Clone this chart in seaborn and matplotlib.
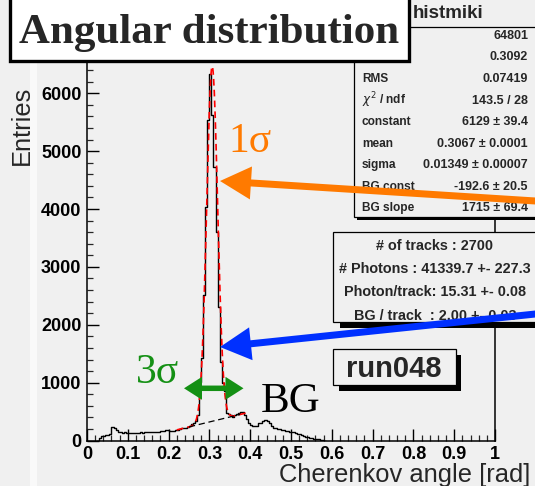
import numpy as np
import pandas as pd
import matplotlib
matplotlib.use("Agg")
import matplotlib.pyplot as plt
from matplotlib.patches import Rectangle, FancyArrow
from matplotlib.ticker import MultipleLocator, FixedLocator
import seaborn as sns

# ---- histogram contents: 0.005 rad bins, first bin starts at 0.025 rad ----
bin_width = 0.005
first_edge = 0.025
counts = [
    0, 37, 78, 80, 95, 100, 107, 233, 220, 176,            # 0.025 - 0.070
    150, 140, 135, 140, 138, 132, 135, 130, 133, 138,      # 0.075 - 0.120
    135, 140, 137, 142, 145, 148, 145, 150, 152, 150,      # 0.125 - 0.170
    155, 160, 158, 181, 176, 165, 170, 164, 175, 190,      # 0.175 - 0.220
    200, 215, 210, 225, 235, 260, 285, 307, 340, 450,      # 0.225 - 0.270
    1010, 1430, 2510, 4030, 5540, 6330, 5620, 4730, 3600, 2310,  # 0.275 - 0.320
    1360, 1000, 850, 470, 455, 440, 415, 450, 465, 480,    # 0.325 - 0.370
    490, 500, 450, 366, 307, 270, 250, 250, 260, 300,      # 0.375 - 0.420
    310, 330, 355, 340, 300, 250, 225, 210, 200, 193,      # 0.425 - 0.470
    185, 175, 165, 160, 155, 150, 140, 135, 120, 107,      # 0.475 - 0.520
    100, 80, 70, 60, 50, 40, 35, 25, 20, 10,               # 0.525 - 0.570
    5, 0,                                                  # 0.575 - 0.580
]

# ---- fit result: gaussian + linear background ----
fit_const = 6129.0
fit_mean = 0.3067
fit_sigma = 0.01349
bg_const = -192.6
bg_slope = 1715.0
fit_range = (0.22, 0.39)
bg_range = (0.25, 0.375)

# ---- text content ----
title_text = "Angular distribution"
hist_name = "histmiki"
# the first two rows sit under the title box, only their values show
stat_labels = ["", "", "RMS", r"$\chi^2$ / ndf", "constant", "mean",
               "sigma", "BG const", "BG slope"]
stat_values = ["64801", "0.3092", "0.07419", "143.5 / 28", "6129 \u00b1 39.4",
               "0.3067 \u00b1 0.0001", "0.01349 \u00b1 0.00007",
               "-192.6 \u00b1 20.5", "1715 \u00b1 69.4"]
track_lines = ["# of tracks : 2700", "# Photons : 41339.7 +- 227.3",
               "Photon/track: 15.31 +- 0.08", "BG / track  : 2.00 +- 0.03"]
run_label = "run048"
x_ticks = [0, 0.1, 0.2, 0.3, 0.4, 0.5, 0.6, 0.7, 0.8, 0.9, 1]
x_tick_labels = ["0", "0.1", "0.2", "0.3", "0.4", "0.5", "0.6", "0.7", "0.8", "0.9", "1"]
y_ticks = [0, 1000, 2000, 3000, 4000, 5000, 6000]
y_tick_labels = ["0", "1000", "2000", "3000", "4000", "5000", "6000"]

BG = "#f0f0f0"
sns.set_style("ticks")
plt.rcParams["font.family"] = ["Liberation Sans", "DejaVu Sans"]

W, H = 535, 486
fig = plt.figure(figsize=(W / 100, H / 100), dpi=100)
fig.patch.set_facecolor(BG)

# light stripe at the left margin of the canvas
fig.patches.append(Rectangle((30 / W, 0), 7 / W, 1, transform=fig.transFigure,
                             facecolor="#f9f9f9", edgecolor="none", zorder=-5))

ax_left, ax_right = 87, 495
ax_bottom = 440.6
y_top = 6800
px_per_unit_y = 57.9 / 1000
ax_top = ax_bottom - y_top * px_per_unit_y
ax = fig.add_axes([ax_left / W, 1 - ax_bottom / H, (ax_right - ax_left) / W,
                   (ax_bottom - ax_top) / H])
ax.set_facecolor(BG)

n_bins = len(counts)
last_edge = first_edge + bin_width * n_bins
centers = first_edge + bin_width * (np.arange(n_bins) + 0.5)
hist_df = pd.DataFrame({"angle": centers, "entries": counts})
sns.histplot(data=hist_df, x="angle", weights="entries", bins=n_bins,
             binrange=(first_edge, last_edge),
             element="step", fill=False, color="black", linewidth=1.0, ax=ax)

xf = np.linspace(fit_range[0], fit_range[1], 400)
yf = fit_const * np.exp(-0.5 * ((xf - fit_mean) / fit_sigma) ** 2) + bg_const + bg_slope * xf
sns.lineplot(x=xf, y=yf, color="red", linewidth=1.2, linestyle=(0, (4, 2.5)), ax=ax)

xb = np.linspace(bg_range[0], bg_range[1], 50)
yb = bg_const + bg_slope * xb
sns.lineplot(x=xb, y=yb, color="black", linewidth=0.9, linestyle=(0, (5, 3)), ax=ax)

ax.set_xlim(0, 1)
ax.set_ylim(0, y_top)
ax.set_xlabel("")
ax.set_ylabel("")
ax.xaxis.set_major_locator(FixedLocator(x_ticks))
ax.yaxis.set_major_locator(FixedLocator(y_ticks))
ax.set_xticklabels(x_tick_labels, fontweight="bold", fontsize=13)
ax.set_yticklabels(y_tick_labels, fontweight="bold", fontsize=13)
ax.xaxis.set_minor_locator(MultipleLocator(0.02))
ax.yaxis.set_minor_locator(MultipleLocator(200))
ax.tick_params(which="major", direction="in", length=8.6, width=1.0, pad=4,
               top=False, right=False, colors="black")
ax.tick_params(which="minor", direction="in", length=4.3, width=0.9,
               top=False, right=False)
for s in ax.spines.values():
    s.set_linewidth(1.1)
    s.set_color("black")

fig.text(22 / W, 1 - 125 / H, "Entries", rotation=90, ha="center", va="center",
         fontsize=18.4)
fig.text(530 / W, 1 - 481.5 / H, "Cherenkov angle [rad]", ha="right", va="baseline",
         fontsize=18.4)

# ---- overlay in pixel coordinates for boxes and annotations ----
ov = fig.add_axes([0, 0, 1, 1], zorder=10)
ov.set_xlim(0, W)
ov.set_ylim(H, 0)
ov.axis("off")
ov.patch.set_alpha(0)

# statistics box
ov.add_patch(Rectangle((357, 216.5), 190, 3.5, facecolor="black", edgecolor="none", zorder=1))
ov.add_patch(Rectangle((354, -5), 192, 221.5, facecolor=BG, edgecolor="black",
                       linewidth=0.9, zorder=2))
ov.plot([354, 546], [27, 27], color="black", linewidth=0.9, zorder=3)
ov.text(448, 14, hist_name, ha="center", va="center", fontsize=13.5,
        fontweight="bold", zorder=3)
for i, (lab, val) in enumerate(zip(stat_labels, stat_values)):
    yy = 36 + 21.5 * i
    if lab:
        ov.text(362, yy, lab, ha="left", va="center", fontsize=8.6,
                fontweight="bold", zorder=3)
    ov.text(528, yy, val, ha="right", va="center", fontsize=9.0,
            fontweight="bold", zorder=3)

# track summary box
ov.add_patch(Rectangle((340, 322), 206, 6, facecolor="black", edgecolor="none", zorder=1))
ov.add_patch(Rectangle((333, 232), 213, 90, facecolor=BG, edgecolor="black",
                       linewidth=0.9, zorder=2))
for i, line in enumerate(track_lines):
    ov.text(435, 246 + 23.2 * i, line, ha="center", va="center", fontsize=10.4,
            fontweight="bold", zorder=3)

# run label box
ov.add_patch(Rectangle((339, 355), 122, 36, facecolor="black", edgecolor="none", zorder=1))
ov.add_patch(Rectangle((333, 349), 123, 36, facecolor=BG, edgecolor="black",
                       linewidth=0.9, zorder=2))
ov.text(394, 369, run_label, ha="center", va="center", fontsize=21,
        fontweight="bold", zorder=3)

# title box
ov.add_patch(Rectangle((10, -10), 399, 71, facecolor="white", edgecolor="black",
                       linewidth=2.4, zorder=4))
ov.text(209, 43, title_text, ha="center", va="baseline", fontsize=31,
        fontweight="bold", family="Liberation Serif", zorder=5)

# annotations
orange = "#ff7a00"
blue = "#0030ff"
green = "#149014"
ov.add_patch(FancyArrow(545, 201.6, -325, -20.6, width=7, head_width=33,
                        head_length=31, length_includes_head=True,
                        facecolor=orange, edgecolor="none", zorder=6))
ov.add_patch(FancyArrow(545, 313, -325, 34, width=7, head_width=33,
                        head_length=31, length_includes_head=True,
                        facecolor=blue, edgecolor="none", zorder=6))
ov.add_patch(FancyArrow(214, 388.3, 29.5, 0, width=5.5, head_width=23,
                        head_length=18, length_includes_head=True,
                        facecolor=green, edgecolor="none", zorder=6))
ov.add_patch(FancyArrow(214, 388.3, -30, 0, width=5.5, head_width=23,
                        head_length=18, length_includes_head=True,
                        facecolor=green, edgecolor="none", zorder=6))
ov.text(228, 152, "1\u03c3", ha="left", va="baseline", fontsize=30, color=orange,
        family="Liberation Serif", zorder=6)
ov.text(136, 383, "3\u03c3", ha="left", va="baseline", fontsize=30, color=green,
        family="Liberation Serif", zorder=6)
ov.text(261, 411.7, "BG", ha="left", va="baseline", fontsize=31, color="black",
        family="Liberation Serif", zorder=6)

fig.savefig("out.png", dpi=100, facecolor=fig.get_facecolor())
